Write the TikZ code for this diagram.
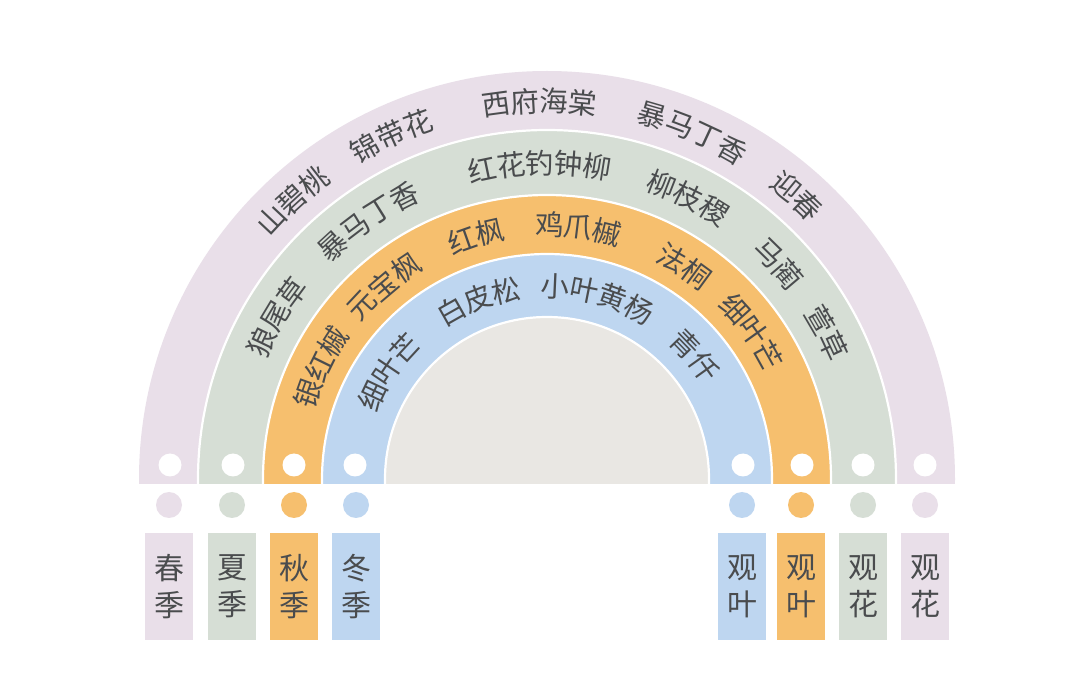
\documentclass[tikz,border=0pt]{standalone}
\usepackage{fontspec}
\newfontfamily\cjk{Noto Sans CJK SC}
\definecolor{ringP}{RGB}{233,223,233}
\definecolor{ringG}{RGB}{214,222,213}
\definecolor{ringO}{RGB}{246,191,110}
\definecolor{ringB}{RGB}{190,214,240}
\definecolor{ringI}{RGB}{233,231,227}
\definecolor{txt}{RGB}{74,76,78}
\tikzset{
  ringline/.style={draw=white, line width=2.2pt},
  arcchar/.style={font=\cjk\fontsize{28.5}{30}\selectfont, text=txt, inner sep=0pt},
  tag/.style={minimum width=48pt, minimum height=107pt, inner sep=0pt,
    font=\cjk\fontsize{30}{37}\selectfont, text=txt, align=center},
  hole/.style={circle, fill=white, minimum size=23pt, inner sep=0pt},
  dot/.style={circle, minimum size=26pt, inner sep=0pt}
}
\newcommand\plantarc[5]{%
  \foreach \ch [count=\k from 0] in {#5}{%
    \pgfmathsetmacro\ang{#3+((#4-1)/2-\k)*29/#2*57.29578}%
    \pgfmathsetmacro\rot{\ang-90}%
    \node[arcchar, rotate=\rot] (#1-\k) at (\ang:#2pt) {\ch};
  }}
\begin{document}
\begin{tikzpicture}[x=1pt,y=1pt]
\useasboundingbox (0,0) rectangle (1080,673);
\fill[white] (0,0) rectangle (1080,673);
\coordinate (C) at (547,194);
\begin{scope}
  \clip (0,189) rectangle (1080,673);
  \fill[ringP] (C) circle[radius=408pt];
  \filldraw[fill=ringG, ringline] (C) circle[radius=349pt];
  \filldraw[fill=ringO, ringline] (C) circle[radius=284pt];
  \filldraw[fill=ringB, ringline] (C) circle[radius=225pt];
  \filldraw[fill=ringI, ringline] (C) circle[radius=162pt];
\end{scope}
\begin{scope}[shift={(C)}]
  % purple ring
  \plantarc{p1}{378}{132.4}{3}{山,碧,桃}
  \plantarc{p2}{378}{114.4}{3}{锦,带,花}
  \plantarc{p3}{378}{91.1}{4}{西,府,海,棠}
  \plantarc{p4}{378}{67.2}{4}{暴,马,丁,香}
  \plantarc{p5}{378}{48.6}{2}{迎,春}
  % green ring
  \plantarc{g1}{316}{149.0}{3}{狼,尾,草}
  \plantarc{g2}{316}{124.7}{4}{暴,马,丁,香}
  \plantarc{g3}{316}{91.3}{5}{红,花,钓,钟,柳}
  \plantarc{g4}{316}{63.4}{3}{柳,枝,稷}
  \plantarc{g5}{316}{42.9}{2}{马,蔺}
  \plantarc{g6}{316}{27.6}{2}{萱,草}
  % orange ring
  \plantarc{o1}{254}{153.7}{3}{银,红,槭}
  \plantarc{o2}{254}{130.3}{3}{元,宝,枫}
  \plantarc{o3}{254}{106.2}{2}{红,枫}
  \plantarc{o4}{254}{82.9}{3}{鸡,爪,槭}
  \plantarc{o5}{254}{57.2}{2}{法,桐}
  \plantarc{o6}{254}{35.6}{3}{细,叶,芒}
  % blue ring
  \plantarc{b1}{193}{146.0}{3}{细,叶,芒}
  \plantarc{b2}{193}{110.9}{3}{白,皮,松}
  \plantarc{b3}{193}{74.5}{4}{小,叶,黄,杨}
  \plantarc{b4}{193}{39.8}{2}{青,仟}
\end{scope}
% holes in rings
\node[hole] (h1) at (170,208) {};
\node[hole] (h2) at (233,208) {};
\node[hole] (h3) at (294,208) {};
\node[hole] (h4) at (355,208) {};
\node[hole] (h5) at (743,208) {};
\node[hole] (h6) at (802,208) {};
\node[hole] (h7) at (863,208) {};
\node[hole] (h8) at (925,208) {};
% coloured dots
\node[dot, fill=ringP] (d1) at (169,168) {};
\node[dot, fill=ringG] (d2) at (232,168) {};
\node[dot, fill=ringO] (d3) at (294,168) {};
\node[dot, fill=ringB] (d4) at (356,168) {};
\node[dot, fill=ringB] (d5) at (742,168) {};
\node[dot, fill=ringO] (d6) at (801,168) {};
\node[dot, fill=ringG] (d7) at (863,168) {};
\node[dot, fill=ringP] (d8) at (925,168) {};
% tags
\node[tag, fill=ringP] (t1) at (169,86.5) {春\\季};
\node[tag, fill=ringG] (t2) at (232,86.5) {夏\\季};
\node[tag, fill=ringO] (t3) at (294,86.5) {秋\\季};
\node[tag, fill=ringB] (t4) at (356,86.5) {冬\\季};
\node[tag, fill=ringB] (t5) at (742,86.5) {观\\叶};
\node[tag, fill=ringO] (t6) at (801,86.5) {观\\叶};
\node[tag, fill=ringG] (t7) at (863,86.5) {观\\花};
\node[tag, fill=ringP] (t8) at (925,86.5) {观\\花};
\end{tikzpicture}
\end{document}
